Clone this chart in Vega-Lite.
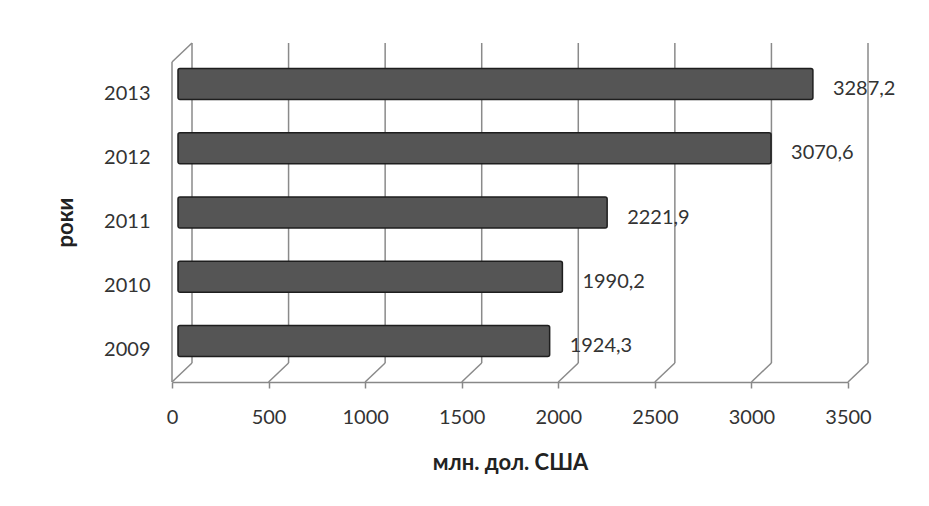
{
  "$schema": "https://vega.github.io/schema/vega-lite/v6.json",
  "width": 676,
  "height": 320,
  "autosize": {"type": "none"},
  "padding": {"left": 172, "top": 62, "right": 81, "bottom": 124},
  "background": "white",
  "config": {
    "view": {"stroke": null},
    "font": "Lato",
    "locale": {"number": {"decimal": ",", "thousands": " ", "grouping": [3], "currency": ["", ""]}},
    "axisX": {
      "titleFont": "Lato", "titleFontSize": 22, "titleFontWeight": "bold", "titleColor": "#222", "titlePadding": 25,
      "labelFont": "Lato", "labelFontSize": 20, "labelColor": "#333", "labelPadding": 19, "labelFlush": false,
      "tickSize": 6, "tickColor": "#888", "tickWidth": 1.5,
      "domainColor": "#888", "domainWidth": 1.5,
      "grid": false
    }
  },
  "datasets": {
    "exports": [
      {"year": "2009", "value": 1924.3},
      {"year": "2010", "value": 1990.2},
      {"year": "2011", "value": 2221.9},
      {"year": "2012", "value": 3070.6},
      {"year": "2013", "value": 3287.2}
    ],
    "grid": [
      {"value": 0}, {"value": 500}, {"value": 1000}, {"value": 1500},
      {"value": 2000}, {"value": 2500}, {"value": 3000}, {"value": 3500}
    ],
    "wall": [{"value": 0}]
  },
  "layer": [
    {
      "layer": [
        {
          "data": {"name": "grid"},
          "mark": {"type": "rule", "color": "#8a8a8a", "strokeWidth": 1.5, "xOffset": 20, "yOffset": -19, "y2Offset": -19},
          "encoding": {
            "x": {"field": "value", "type": "quantitative", "scale": {"domain": [0, 3500], "nice": false}, "axis": {"values": [0, 500, 1000, 1500, 2000, 2500, 3000, 3500], "format": "d", "title": "млн. дол. США"}},
            "y": {"datum": 0, "type": "quantitative", "scale": {"domain": [0, 1]}, "axis": null},
            "y2": {"datum": 1}
          }
        },
        {
          "data": {"name": "grid"},
          "mark": {"type": "rule", "color": "#8a8a8a", "strokeWidth": 1.5, "x2Offset": 20, "y2Offset": -19},
          "encoding": {
            "x": {"field": "value", "type": "quantitative", "scale": {"domain": [0, 3500], "nice": false}, "axis": {"values": [0, 500, 1000, 1500, 2000, 2500, 3000, 3500], "format": "d", "title": "млн. дол. США"}},
            "x2": {"field": "value"},
            "y": {"datum": 0, "type": "quantitative", "scale": {"domain": [0, 1]}, "axis": null},
            "y2": {"datum": 0}
          }
        },
        {
          "data": {"name": "wall"},
          "mark": {"type": "rule", "color": "#8a8a8a", "strokeWidth": 1.5},
          "encoding": {
            "x": {"field": "value", "type": "quantitative", "scale": {"domain": [0, 3500], "nice": false}, "axis": {"values": [0, 500, 1000, 1500, 2000, 2500, 3000, 3500], "format": "d", "title": "млн. дол. США"}},
            "y": {"datum": 0, "type": "quantitative", "scale": {"domain": [0, 1]}, "axis": null},
            "y2": {"datum": 1}
          }
        },
        {
          "data": {"name": "wall"},
          "mark": {"type": "rule", "color": "#8a8a8a", "strokeWidth": 1.5, "x2Offset": 20, "y2Offset": -19},
          "encoding": {
            "x": {"field": "value", "type": "quantitative", "scale": {"domain": [0, 3500], "nice": false}, "axis": {"values": [0, 500, 1000, 1500, 2000, 2500, 3000, 3500], "format": "d", "title": "млн. дол. США"}},
            "x2": {"field": "value"},
            "y": {"datum": 1, "type": "quantitative", "scale": {"domain": [0, 1]}, "axis": null},
            "y2": {"datum": 1}
          }
        }
      ]
    },
    {
      "data": {"name": "exports"},
      "encoding": {
        "y": {
          "field": "year", "type": "ordinal", "sort": "descending",
          "scale": {"paddingInner": 0.517, "paddingOuter": 0.249},
          "axis": {
            "title": "роки",
            "titleFont": "Lato", "titleFontSize": 22, "titleFontWeight": "bold", "titleColor": "#222", "titlePadding": 26,
            "labelFont": "Lato", "labelFontSize": 20, "labelColor": "#333", "labelPadding": 22,
            "ticks": false, "domain": false
          }
        }
      },
      "layer": [
        {
          "mark": {"type": "bar", "fill": "#555555", "stroke": "#1e1e1e", "strokeWidth": 1.5, "cornerRadius": 2, "xOffset": 6, "x2Offset": 6, "yOffset": -9.5},
          "encoding": {
            "x": {"field": "value", "type": "quantitative", "scale": {"domain": [0, 3500], "nice": false}, "axis": {"values": [0, 500, 1000, 1500, 2000, 2500, 3000, 3500], "format": "d", "title": "млн. дол. США"}},
            "x2": {"datum": 0}
          }
        },
        {
          "mark": {"type": "text", "align": "left", "baseline": "middle", "dx": 26, "yOffset": -4.5, "fontSize": 20, "font": "Lato", "color": "#333"},
          "encoding": {
            "x": {"field": "value", "type": "quantitative", "scale": {"domain": [0, 3500], "nice": false}, "axis": {"values": [0, 500, 1000, 1500, 2000, 2500, 3000, 3500], "format": "d", "title": "млн. дол. США"}},
            "text": {"field": "value", "type": "quantitative", "format": ".1f"}
          }
        }
      ]
    }
  ],
  "resolve": {"scale": {"y": "independent"}, "axis": {"y": "independent"}}
}
